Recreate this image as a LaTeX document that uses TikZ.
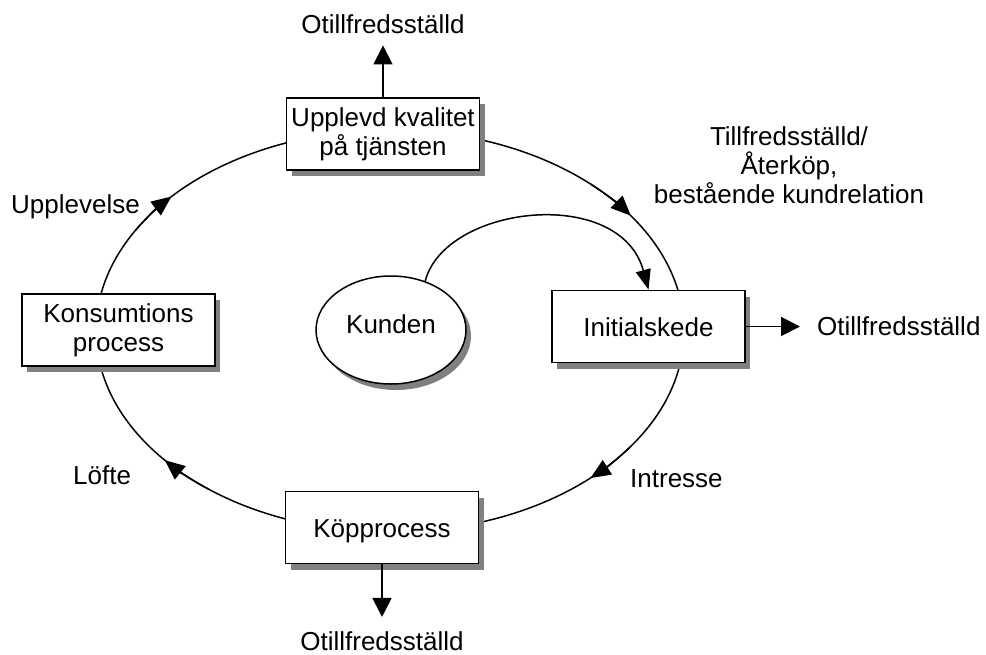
\documentclass[tikz,border=0pt]{standalone}
\usepackage{fontspec}
\setmainfont{Liberation Sans}
\usetikzlibrary{arrows.meta,shapes.geometric,shadows}

\begin{document}
\begin{tikzpicture}[x=1pt,y=-1pt,
  font=\fontsize{26pt}{29pt}\selectfont,
  shade box/.style={drop shadow={shadow xshift=5pt,shadow yshift=-6pt,fill=gray,opacity=1}},
  stage/.style={draw,line width=1.8pt,fill=white,minimum width=193pt,minimum height=72pt,
    align=center,inner sep=0pt,shade box},
  oneline/.style={text height=19pt,text depth=0pt},
  lbl/.style={inner sep=0pt},
  flow/.style={line width=1.5pt,-{Triangle[length=20pt,width=17pt]}},
  outarrow/.style={line width=1.8pt,-{Triangle[length=19pt,width=19pt]}},
]
\useasboundingbox (0,0) rectangle (986,654);

% the customer cycle
\coordinate (cyc) at (390,331);
\draw[line width=1.5pt] (cyc) ellipse [x radius=294, y radius=201];

% stages on the cycle
\node[stage] (upp) at (383,134) {Upplevd kvalitet\\på tjänsten};
\node[stage,oneline] (init) at (648.5,326.5) {Initialskede};
\node[stage,oneline] (kop) at (382,527.5) {Köpprocess};
\node[stage] (kons) at (118.5,330) {Konsumtions\\process};

% the customer in the middle
\node[draw,ellipse,line width=1.5pt,fill=white,minimum width=150pt,minimum height=108pt,
  inner sep=0pt,text height=19pt,text depth=13pt,shade box] (kun) at (391,330) {Kunden};

% direction marks along the cycle
\foreach \t in {47,140,222,325}
  \draw[flow,shift={(cyc)}] (\t-12:294 and 201)
    arc[start angle=\t-12,end angle=\t,x radius=294,y radius=201];

% entry of the customer
\draw[line width=1.5pt,-{Triangle[length=20pt,width=15pt]}]
  (kun.55) .. controls (445,205) and (620,185) .. (init.north);

% labels along the cycle
\node[lbl,anchor=base west] (lupp) at (11,213) {Upplevelse};
\node[lbl,anchor=base west] (lofte) at (73,484) {Löfte};
\node[lbl,anchor=base west] (lint) at (630,487) {Intresse};
\node[lbl,align=center] (ltill) at (789,165.5) {Tillfredsställd/\\Återköp,\\bestående kundrelation};

% dissatisfied exits
\node[lbl,anchor=base] (o1) at (383,33) {Otillfredsställd};
\node[lbl,anchor=base west] (o2) at (817,335) {Otillfredsställd};
\node[lbl,anchor=base] (o3) at (382,650) {Otillfredsställd};

\draw[outarrow,shorten >=12pt] (upp.north) -- (upp.north |- o1.south);
\draw[outarrow,shorten >=17pt] (init.east) -- (init.east -| o2.west);
\draw[outarrow,shorten >=14pt] (kop.south) -- (kop.south |- o3.north);
\end{tikzpicture}
\end{document}
